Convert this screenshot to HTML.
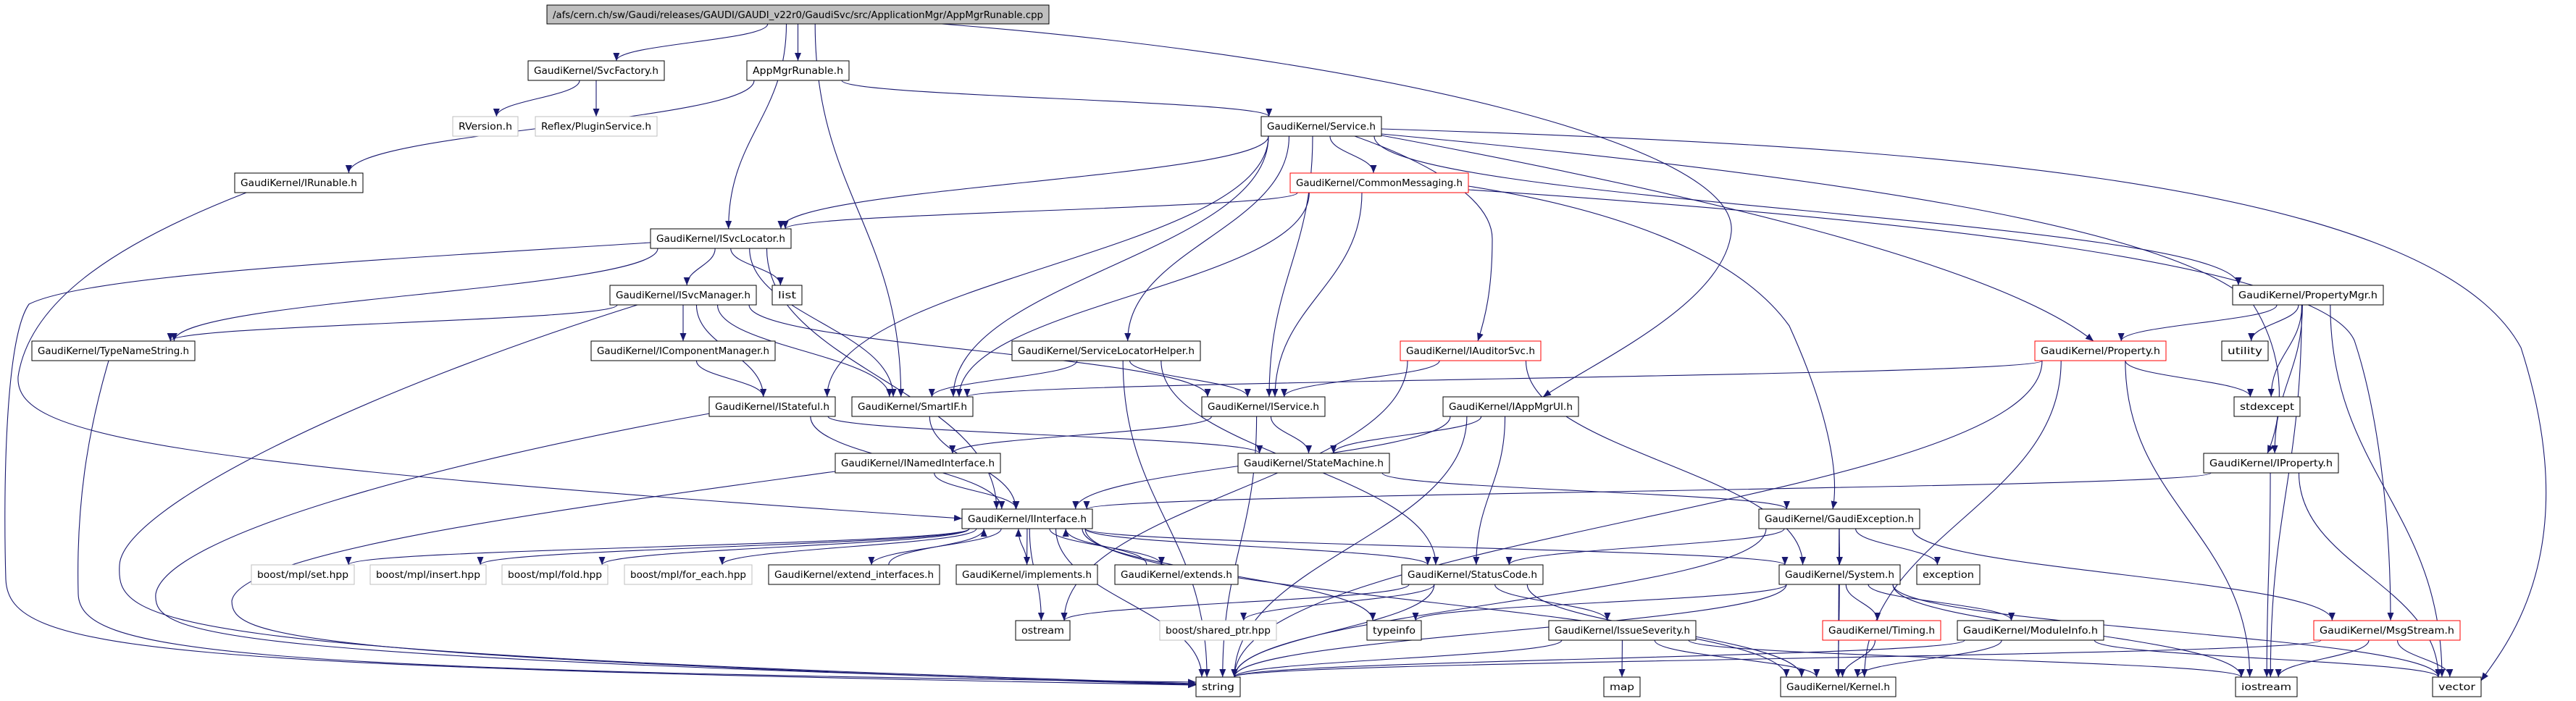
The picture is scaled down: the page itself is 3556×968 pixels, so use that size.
<!DOCTYPE html>
<html><head><meta charset="utf-8"><style>
html,body{margin:0;padding:0;background:#fff;}
svg{display:block;}
text{font-family:"DejaVu Sans","Liberation Sans",sans-serif;font-size:13px;fill:#000;}
</style></head><body>
<svg id="g" xmlns="http://www.w3.org/2000/svg" width="3556" height="968" viewBox="0 0 3556 968">
<defs><marker id="a" markerUnits="userSpaceOnUse" markerWidth="11" markerHeight="9" refX="11" refY="4.5" orient="auto"><path d="M0,0 L11,4.5 L0,9 z" fill="#191970"/></marker></defs>
<g id="edges" fill="none" stroke="#191970" stroke-width="1.1"></g>
<g id="nodes">
<rect x="755" y="7" width="693" height="26" fill="#bfbfbf" stroke="#000"/><text x="763" y="25" textLength="677" lengthAdjust="spacingAndGlyphs">/afs/cern.ch/sw/Gaudi/releases/GAUDI/GAUDI_v22r0/GaudiSvc/src/ApplicationMgr/AppMgrRunable.cpp</text>
</g>
</svg>
<script>
var R=[7,84,161,239,316,394,471,548,626,703,780,857,935];
var N={
SvcFactory:[729,917,1],AppMgrRunable:[1031,1172,1],RVersion:[625,715,2],Plugin:[739,907,2],Service:[1741,1907,2],
IRunable:[324,501,3],CommonMessaging:[1781,2027,3],ISvcLocator:[898,1092,4],list:[1066,1107,5],ISvcManager:[842,1044,5],
PropertyMgr:[3082,3290,5],TypeNameString:[44,269,6],IComponentManager:[816,1070,6],SLH:[1397,1657,6],IAuditorSvc:[1933,2127,6],
Property:[2809,2990,6],utility:[3067,3131,6],IStateful:[979,1153,7],SmartIF:[1176,1343,7],IService:[1659,1829,7],
IAppMgrUI:[1992,2179,7],stdexcept:[3084,3175,7],INamed:[1153,1381,8],StateMachine:[1709,1918,8],IProperty:[3042,3228,8],
IInterface:[1328,1508,9],GaudiException:[2428,2650,9],mset:[347,489,10],minsert:[511,671,10],mfold:[693,839,10],
mforeach:[862,1038,10],extint:[1061,1297,10],impl:[1320,1515,10],extends:[1539,1709,10],StatusCode:[1935,2130,10],
System:[2456,2623,10],exception:[2646,2733,10],ostream:[1402,1477,11],shared:[1601,1762,11],typeinfo:[1887,1962,11],
IssueSeverity:[2138,2341,11],Timing:[2516,2679,11],ModuleInfo:[2702,2904,11],MsgStream:[3194,3396,11],
string:[1651,1712,12],map:[2214,2264,12],Kernel:[2458,2617,12],iostream:[3086,3171,12],vector:[3358,3425,12],
root:[755,1448,0]
};
var E={
root:['SvcFactory','AppMgrRunable','ISvcLocator','SmartIF','IAppMgrUI'],
SvcFactory:['RVersion','Plugin'],
AppMgrRunable:['Service','IRunable'],
Service:['ISvcLocator','CommonMessaging','SmartIF','IService','IStateful','SLH','IAuditorSvc','Property','PropertyMgr','IProperty','vector'],
IRunable:['IInterface'],
CommonMessaging:['ISvcLocator','SmartIF','IService','GaudiException','MsgStream'],
ISvcLocator:['ISvcManager','list','SmartIF','IInterface','TypeNameString','string'],
ISvcManager:['TypeNameString','IComponentManager','SmartIF','IService','IStateful','string'],
IComponentManager:['IStateful'],
TypeNameString:['string'],
SLH:['SmartIF','IService','StatusCode','string'],
IAuditorSvc:['IService','System','ostream'],
Property:['SmartIF','stdexcept','string','Kernel','iostream'],
PropertyMgr:['Property','utility','stdexcept','IProperty','iostream','vector'],
IStateful:['IInterface','StateMachine','string'],
SmartIF:['IInterface'],
IService:['INamed','StateMachine','string'],
IAppMgrUI:['StateMachine','StatusCode','IInterface','string'],
INamed:['IInterface','string'],
StateMachine:['GaudiException'],
IProperty:['IInterface','iostream','vector'],
IInterface:['mset','minsert','mfold','mforeach','extint','impl','extends','StatusCode','System','typeinfo','ostream','Kernel','string'],
extint:['IInterface'],impl:['IInterface'],extends:['IInterface'],
GaudiException:['StatusCode','System','exception','Kernel','MsgStream','string'],
StatusCode:['IssueSeverity','shared','ostream','Kernel','string'],
System:['typeinfo','string','Timing','ModuleInfo','Kernel','vector','iostream'],
IssueSeverity:['map','Kernel','string','iostream'],
Timing:['Kernel'],
ModuleInfo:['Kernel','string','vector'],
MsgStream:['string','vector','iostream']
};
var O={
'ISvcLocator>string':'M898,335 C500,360 120,380 40,420 C5,470 5,700 8,800 C12,900 200,920 1651,946',
'IRunable>IInterface':'M340,266 C150,340 40,420 25,520 C20,600 200,640 1328,716',
'TypeNameString>string':'M150,498 C120,600 105,700 108,820 C110,900 300,925 1651,942',
'ISvcManager>string':'M880,421 C500,540 170,700 165,780 C160,860 200,900 1651,944',
'IStateful>string':'M985,570 C600,640 230,740 215,820 C210,880 300,905 1651,945',
'INamed>string':'M1160,650 C800,700 330,760 320,830 C320,880 400,905 1651,946',
'root>IAppMgrUI':'M1300,33 C1900,80 2400,200 2390,320 C2380,420 2200,500 2130,548',
'Service>vector':'M1907,178 C2600,200 3350,240 3480,480 C3570,760 3460,890 3425,940',
'Service>IProperty':'M1907,185 C2500,240 3000,310 3110,420 C3160,500 3150,580 3130,626',
'CommonMessaging>MsgStream':'M2027,262 C2600,300 3200,360 3250,470 C3280,560 3300,700 3300,857',
'CommonMessaging>GaudiException':'M2027,257 C2300,300 2420,380 2470,450 C2520,560 2540,650 2530,703',
'Service>IAuditorSvc':'M1870,188 C1960,220 2060,270 2060,330 C2060,400 2050,440 2040,471',
'Service>Property':'M1907,187 C2300,260 2750,360 2890,471'
};
var ns='http://www.w3.org/2000/svg',eg=document.getElementById('edges');
function H(n){return n[2]==0?26:27;}
function cl(v,a,b){return Math.max(a,Math.min(b,v));}
for(var s in E){E[s].forEach(function(t){
 var a=N[s],b=N[t],d=O[s+'>'+t];
 var acx=(a[0]+a[1])/2,bcx=(b[0]+b[1])/2;
 var ay=R[a[2]],by=R[b[2]];
 if(d){}
 else if(b[2]>a[2]){
  var sy=ay+H(a),ty=by;
  var sx=cl(acx+(bcx-acx)*0.15,a[0]+10,a[1]-10);
  var tx=cl(bcx+(acx-bcx)*0.1,b[0]+8,b[1]-8);
  var dy=ty-sy;
  d='M'+sx+','+sy+' C'+sx+','+(sy+dy*0.45)+' '+tx+','+(ty-dy*0.45)+' '+tx+','+ty;
 } else if(b[2]==a[2]){
  var sx2=bcx>acx?a[1]:a[0],tx2=bcx>acx?b[0]:b[1],yy=ay+13;
  d='M'+sx2+','+yy+' L'+tx2+','+yy;
 } else {
  var sx3=cl(acx+(bcx-acx)*0.2,a[0]+10,a[1]-10),sy3=ay;
  var tx3=cl(bcx+(acx-bcx)*0.2,b[0]+10,b[1]-10)+(acx>bcx?12:-12),ty3=by+H(b);
  d='M'+sx3+','+sy3+' C'+sx3+','+(sy3-25)+' '+tx3+','+(ty3+25)+' '+tx3+','+ty3;
 }
 var p=document.createElementNS(ns,'path');p.setAttribute('d',d);p.setAttribute('marker-end','url(#a)');eg.appendChild(p);
});}
</script>
<svg style="position:absolute;left:0;top:0" xmlns="http://www.w3.org/2000/svg" width="3556" height="968">
<g font-family="DejaVu Sans, Liberation Sans, sans-serif" font-size="13">
<rect x="729" y="84" width="188" height="27" fill="#fff" stroke="#000"/><text x="737" y="102" textLength="172" lengthAdjust="spacingAndGlyphs">GaudiKernel/SvcFactory.h</text>
<rect x="1031" y="84" width="141" height="27" fill="#fff" stroke="#000"/><text x="1039" y="102" textLength="125" lengthAdjust="spacingAndGlyphs">AppMgrRunable.h</text>
<rect x="625" y="161" width="90" height="27" fill="#fff" stroke="#bfbfbf"/><text x="633" y="179" textLength="74" lengthAdjust="spacingAndGlyphs">RVersion.h</text>
<rect x="739" y="161" width="168" height="27" fill="#fff" stroke="#bfbfbf"/><text x="747" y="179" textLength="152" lengthAdjust="spacingAndGlyphs">Reflex/PluginService.h</text>
<rect x="1741" y="161" width="166" height="27" fill="#fff" stroke="#000"/><text x="1749" y="179" textLength="150" lengthAdjust="spacingAndGlyphs">GaudiKernel/Service.h</text>
<rect x="324" y="239" width="177" height="27" fill="#fff" stroke="#000"/><text x="332" y="257" textLength="161" lengthAdjust="spacingAndGlyphs">GaudiKernel/IRunable.h</text>
<rect x="1781" y="239" width="246" height="27" fill="#fff" stroke="#f00"/><text x="1789" y="257" textLength="230" lengthAdjust="spacingAndGlyphs">GaudiKernel/CommonMessaging.h</text>
<rect x="898" y="316" width="194" height="27" fill="#fff" stroke="#000"/><text x="906" y="334" textLength="178" lengthAdjust="spacingAndGlyphs">GaudiKernel/ISvcLocator.h</text>
<rect x="1066" y="394" width="41" height="27" fill="#fff" stroke="#000"/><text x="1074" y="412" textLength="25" lengthAdjust="spacingAndGlyphs">list</text>
<rect x="842" y="394" width="202" height="27" fill="#fff" stroke="#000"/><text x="850" y="412" textLength="186" lengthAdjust="spacingAndGlyphs">GaudiKernel/ISvcManager.h</text>
<rect x="3082" y="394" width="208" height="27" fill="#fff" stroke="#000"/><text x="3090" y="412" textLength="192" lengthAdjust="spacingAndGlyphs">GaudiKernel/PropertyMgr.h</text>
<rect x="44" y="471" width="225" height="27" fill="#fff" stroke="#000"/><text x="52" y="489" textLength="209" lengthAdjust="spacingAndGlyphs">GaudiKernel/TypeNameString.h</text>
<rect x="816" y="471" width="254" height="27" fill="#fff" stroke="#000"/><text x="824" y="489" textLength="238" lengthAdjust="spacingAndGlyphs">GaudiKernel/IComponentManager.h</text>
<rect x="1397" y="471" width="260" height="27" fill="#fff" stroke="#000"/><text x="1405" y="489" textLength="244" lengthAdjust="spacingAndGlyphs">GaudiKernel/ServiceLocatorHelper.h</text>
<rect x="1933" y="471" width="194" height="27" fill="#fff" stroke="#f00"/><text x="1941" y="489" textLength="178" lengthAdjust="spacingAndGlyphs">GaudiKernel/IAuditorSvc.h</text>
<rect x="2809" y="471" width="181" height="27" fill="#fff" stroke="#f00"/><text x="2817" y="489" textLength="165" lengthAdjust="spacingAndGlyphs">GaudiKernel/Property.h</text>
<rect x="3067" y="471" width="64" height="27" fill="#fff" stroke="#000"/><text x="3075" y="489" textLength="48" lengthAdjust="spacingAndGlyphs">utility</text>
<rect x="979" y="548" width="174" height="27" fill="#fff" stroke="#000"/><text x="987" y="566" textLength="158" lengthAdjust="spacingAndGlyphs">GaudiKernel/IStateful.h</text>
<rect x="1176" y="548" width="167" height="27" fill="#fff" stroke="#000"/><text x="1184" y="566" textLength="151" lengthAdjust="spacingAndGlyphs">GaudiKernel/SmartIF.h</text>
<rect x="1659" y="548" width="170" height="27" fill="#fff" stroke="#000"/><text x="1667" y="566" textLength="154" lengthAdjust="spacingAndGlyphs">GaudiKernel/IService.h</text>
<rect x="1992" y="548" width="187" height="27" fill="#fff" stroke="#000"/><text x="2000" y="566" textLength="171" lengthAdjust="spacingAndGlyphs">GaudiKernel/IAppMgrUI.h</text>
<rect x="3084" y="548" width="91" height="27" fill="#fff" stroke="#000"/><text x="3092" y="566" textLength="75" lengthAdjust="spacingAndGlyphs">stdexcept</text>
<rect x="1153" y="626" width="228" height="27" fill="#fff" stroke="#000"/><text x="1161" y="644" textLength="212" lengthAdjust="spacingAndGlyphs">GaudiKernel/INamedInterface.h</text>
<rect x="1709" y="626" width="209" height="27" fill="#fff" stroke="#000"/><text x="1717" y="644" textLength="193" lengthAdjust="spacingAndGlyphs">GaudiKernel/StateMachine.h</text>
<rect x="3042" y="626" width="186" height="27" fill="#fff" stroke="#000"/><text x="3050" y="644" textLength="170" lengthAdjust="spacingAndGlyphs">GaudiKernel/IProperty.h</text>
<rect x="1328" y="703" width="180" height="27" fill="#fff" stroke="#000"/><text x="1336" y="721" textLength="164" lengthAdjust="spacingAndGlyphs">GaudiKernel/IInterface.h</text>
<rect x="2428" y="703" width="222" height="27" fill="#fff" stroke="#000"/><text x="2436" y="721" textLength="206" lengthAdjust="spacingAndGlyphs">GaudiKernel/GaudiException.h</text>
<rect x="347" y="780" width="142" height="27" fill="#fff" stroke="#bfbfbf"/><text x="355" y="798" textLength="126" lengthAdjust="spacingAndGlyphs">boost/mpl/set.hpp</text>
<rect x="511" y="780" width="160" height="27" fill="#fff" stroke="#bfbfbf"/><text x="519" y="798" textLength="144" lengthAdjust="spacingAndGlyphs">boost/mpl/insert.hpp</text>
<rect x="693" y="780" width="146" height="27" fill="#fff" stroke="#bfbfbf"/><text x="701" y="798" textLength="130" lengthAdjust="spacingAndGlyphs">boost/mpl/fold.hpp</text>
<rect x="862" y="780" width="176" height="27" fill="#fff" stroke="#bfbfbf"/><text x="870" y="798" textLength="160" lengthAdjust="spacingAndGlyphs">boost/mpl/for_each.hpp</text>
<rect x="1061" y="780" width="236" height="27" fill="#fff" stroke="#000"/><text x="1069" y="798" textLength="220" lengthAdjust="spacingAndGlyphs">GaudiKernel/extend_interfaces.h</text>
<rect x="1320" y="780" width="195" height="27" fill="#fff" stroke="#000"/><text x="1328" y="798" textLength="179" lengthAdjust="spacingAndGlyphs">GaudiKernel/implements.h</text>
<rect x="1539" y="780" width="170" height="27" fill="#fff" stroke="#000"/><text x="1547" y="798" textLength="154" lengthAdjust="spacingAndGlyphs">GaudiKernel/extends.h</text>
<rect x="1935" y="780" width="195" height="27" fill="#fff" stroke="#000"/><text x="1943" y="798" textLength="179" lengthAdjust="spacingAndGlyphs">GaudiKernel/StatusCode.h</text>
<rect x="2456" y="780" width="167" height="27" fill="#fff" stroke="#000"/><text x="2464" y="798" textLength="151" lengthAdjust="spacingAndGlyphs">GaudiKernel/System.h</text>
<rect x="2646" y="780" width="87" height="27" fill="#fff" stroke="#000"/><text x="2654" y="798" textLength="71" lengthAdjust="spacingAndGlyphs">exception</text>
<rect x="1402" y="857" width="75" height="27" fill="#fff" stroke="#000"/><text x="1410" y="875" textLength="59" lengthAdjust="spacingAndGlyphs">ostream</text>
<rect x="1601" y="857" width="161" height="27" fill="#fff" stroke="#bfbfbf"/><text x="1609" y="875" textLength="145" lengthAdjust="spacingAndGlyphs">boost/shared_ptr.hpp</text>
<rect x="1887" y="857" width="75" height="27" fill="#fff" stroke="#000"/><text x="1895" y="875" textLength="59" lengthAdjust="spacingAndGlyphs">typeinfo</text>
<rect x="2138" y="857" width="203" height="27" fill="#fff" stroke="#000"/><text x="2146" y="875" textLength="187" lengthAdjust="spacingAndGlyphs">GaudiKernel/IssueSeverity.h</text>
<rect x="2516" y="857" width="163" height="27" fill="#fff" stroke="#f00"/><text x="2524" y="875" textLength="147" lengthAdjust="spacingAndGlyphs">GaudiKernel/Timing.h</text>
<rect x="2702" y="857" width="202" height="27" fill="#fff" stroke="#000"/><text x="2710" y="875" textLength="186" lengthAdjust="spacingAndGlyphs">GaudiKernel/ModuleInfo.h</text>
<rect x="3194" y="857" width="202" height="27" fill="#fff" stroke="#f00"/><text x="3202" y="875" textLength="186" lengthAdjust="spacingAndGlyphs">GaudiKernel/MsgStream.h</text>
<rect x="1651" y="935" width="61" height="27" fill="#fff" stroke="#000"/><text x="1659" y="953" textLength="45" lengthAdjust="spacingAndGlyphs">string</text>
<rect x="2214" y="935" width="50" height="27" fill="#fff" stroke="#000"/><text x="2222" y="953" textLength="34" lengthAdjust="spacingAndGlyphs">map</text>
<rect x="2458" y="935" width="159" height="27" fill="#fff" stroke="#000"/><text x="2466" y="953" textLength="143" lengthAdjust="spacingAndGlyphs">GaudiKernel/Kernel.h</text>
<rect x="3086" y="935" width="85" height="27" fill="#fff" stroke="#000"/><text x="3094" y="953" textLength="69" lengthAdjust="spacingAndGlyphs">iostream</text>
<rect x="3358" y="935" width="67" height="27" fill="#fff" stroke="#000"/><text x="3366" y="953" textLength="51" lengthAdjust="spacingAndGlyphs">vector</text>
</g>
</svg>
</body></html>
